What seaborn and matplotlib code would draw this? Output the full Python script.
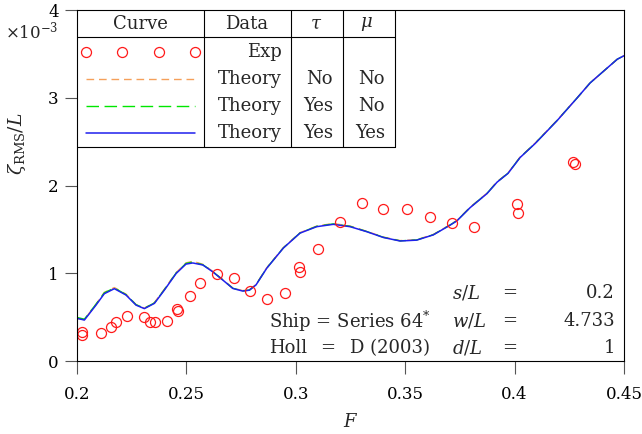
import matplotlib
matplotlib.use("Agg")
import matplotlib.pyplot as plt
import seaborn as sns
import pandas as pd
from matplotlib.lines import Line2D

# ---------------- data (zeta_RMS/L in units of 1e-3) ----------------
F_theory = [0.2, 0.2035, 0.2088, 0.2126, 0.2172, 0.2225, 0.2271, 0.2309, 0.2355, 0.2400,
            0.2454, 0.2499, 0.2530, 0.2576, 0.2621, 0.2667, 0.2713, 0.2758, 0.2789, 0.2819,
            0.2868, 0.2944, 0.3020, 0.3096, 0.3172, 0.3249, 0.3325, 0.3401, 0.3477, 0.3553,
            0.3629, 0.3705, 0.3737, 0.3797, 0.3874, 0.3920, 0.3970, 0.4025, 0.4094, 0.4194,
            0.4286, 0.4345, 0.4469, 0.45]
theory_tau_mu = [0.49, 0.47, 0.64, 0.77, 0.827, 0.755, 0.64, 0.60, 0.66, 0.81,
                 1.0, 1.107, 1.12, 1.097, 1.02, 0.926, 0.83, 0.80, 0.81, 0.87,
                 1.06, 1.29, 1.46, 1.533, 1.56, 1.533, 1.476, 1.41, 1.37, 1.38,
                 1.44, 1.55, 1.60, 1.75, 1.91, 2.04, 2.14, 2.32, 2.48, 2.74,
                 3.0, 3.17, 3.44, 3.48]
theory_tau = [0.50, 0.48, 0.65, 0.78, 0.835, 0.76, 0.645, 0.605, 0.665, 0.815,
              1.005, 1.115, 1.13, 1.10, 1.022, 0.928, 0.832, 0.802, 0.812, 0.872,
              1.062, 1.292, 1.462, 1.537, 1.565, 1.537, 1.478, 1.412, 1.372, 1.382,
              1.442, 1.552, 1.602, 1.752, 1.912, 2.042, 2.142, 2.322, 2.482, 2.742,
              3.0, 3.17, 3.44, 3.48]
theory_none = [0.49, 0.475, 0.65, 0.785, 0.84, 0.765, 0.645, 0.605, 0.67, 0.82,
               1.01, 1.12, 1.14, 1.105, 1.025, 0.93, 0.835, 0.805, 0.815, 0.875,
               1.065, 1.295, 1.465, 1.54, 1.57, 1.54, 1.48, 1.415, 1.375, 1.385,
               1.445, 1.555, 1.605, 1.755, 1.915, 2.045, 2.145, 2.325, 2.485, 2.745,
               3.0, 3.17, 3.44, 3.48]

F_exp = [0.2026, 0.2026, 0.211, 0.2157, 0.218, 0.2231, 0.2309, 0.2335, 0.2358, 0.2411,
         0.246, 0.2464, 0.2516, 0.2563, 0.264, 0.2719, 0.2792, 0.2871, 0.295, 0.3017,
         0.302, 0.31, 0.3203, 0.3302, 0.34, 0.3507, 0.3614, 0.3713, 0.3815, 0.4013,
         0.4016, 0.4269, 0.4277]
exp_vals = [0.337, 0.30, 0.326, 0.387, 0.45, 0.52, 0.50, 0.444, 0.444, 0.455,
            0.60, 0.576, 0.744, 0.888, 0.99, 0.945, 0.80, 0.706, 0.78, 1.077,
            1.02, 1.275, 1.59, 1.806, 1.73, 1.73, 1.64, 1.58, 1.526, 1.79,
            1.69, 2.27, 2.25]

x_ticks = [0.2, 0.25, 0.3, 0.35, 0.4, 0.45]
x_tick_labels = ["0.2", "0.25", "0.3", "0.35", "0.4", "0.45"]
y_ticks = [0, 1, 2, 3, 4]
y_tick_labels = ["0", "1", "2", "3", "4"]

table_header = ["Curve", "Data", r"$\tau$", r"$\mu$"]
table_data = ["Exp", "Theory", "Theory", "Theory"]
table_tau = ["", "No", "Yes", "Yes"]
table_mu = ["", "No", "No", "Yes"]

param_names = [r"$s/L$", r"$w/L$", r"$d/L$"]
param_values = ["0.2", "4.733", "1"]

# ---------------- style ----------------
sns.set_theme(style="white")
plt.rcParams["font.family"] = ["DejaVu Serif"]
plt.rcParams["mathtext.fontset"] = "dejavuserif"

ORANGE = "#f5a05a"
GREEN = "#00e600"
BLUE = "#1f1fee"
RED = "#ff1a1a"

fig = plt.figure(figsize=(6.42, 4.34), dpi=100)
ax = fig.add_axes([0.1195, 0.1675, 0.8525, 0.8093])

df = pd.DataFrame({"F": F_theory, "none": theory_none, "tau": theory_tau, "taumu": theory_tau_mu})
dfe = pd.DataFrame({"F": F_exp, "exp": exp_vals})

sns.lineplot(data=df, x="F", y="none", ax=ax, color=ORANGE, lw=1.0, sort=False)
ax.lines[-1].set_dashes((5.5, 3.5))
sns.lineplot(data=df, x="F", y="tau", ax=ax, color=GREEN, lw=1.0, sort=False)
ax.lines[-1].set_dashes((9, 4))
sns.lineplot(data=df, x="F", y="taumu", ax=ax, color=BLUE, lw=1.1, sort=False)
ax.plot(dfe["F"], dfe["exp"], ls="none", marker="o", ms=7.2, mfc="none", mec=RED, mew=0.9)

ax.set_xlim(0.2, 0.45)
ax.set_ylim(0, 4)
ax.set_xticks(x_ticks)
ax.set_xticklabels(x_tick_labels)
ax.set_yticks(y_ticks)
ax.set_yticklabels(y_tick_labels)
ax.tick_params(direction="out", length=9, width=0.8, color="#555555", labelsize=12,
               labelcolor="black")
ax.tick_params(axis="x", pad=9)
ax.tick_params(axis="y", pad=4)
ax.tick_params(bottom=True, left=True, top=False, right=False)
for s in ax.spines.values():
    s.set_color("black")
    s.set_linewidth(0.8)

ax.set_xlabel(r"$F$", fontsize=13)
ax.xaxis.label.set_va("center")
ax.xaxis.set_label_coords(0.5, -0.174)
ax.set_ylabel(r"$\zeta_{\mathrm{RMS}}/L$", fontsize=13.5)
ax.yaxis.label.set_va("center")
ax.yaxis.set_label_coords(-0.110, 0.62)
ax.text(-0.034, 0.94, r"$\times10^{-3}$", transform=ax.transAxes, ha="right", va="center",
        fontsize=12)

# ---------------- table legend ----------------
T = ax.transAxes
fs = 13
def hline(y, x0, x1):
    ax.add_line(Line2D([x0, x1], [y, y], transform=T, color="black", lw=0.8))
def vline(x, y0, y1):
    ax.add_line(Line2D([x, x], [y0, y1], transform=T, color="black", lw=0.8))

y_hdr_sep, y_bot = 0.9234, 0.610
col_lines = [0.2326, 0.3916, 0.4866, 0.5815]
hline(y_hdr_sep, 0, 0.5815)
hline(y_bot, 0, 0.5815)
for xc in col_lines:
    vline(xc, y_bot, 1.0)

hdr_x = [0.1157, 0.3113, 0.4372, 0.529]
for xh, lab in zip(hdr_x, table_header):
    ax.text(xh, 0.9607, lab, transform=T, ha="center", va="center", fontsize=fs)

row_y = [0.8807, 0.804, 0.727, 0.650]
for ry, d, t, m in zip(row_y, table_data, table_tau, table_mu):
    ax.text(0.3752, ry, d, transform=T, ha="right", va="center", fontsize=fs)
    ax.text(0.4683, ry, t, transform=T, ha="right", va="center", fontsize=fs)
    ax.text(0.5633, ry, m, transform=T, ha="right", va="center", fontsize=fs)

ax.plot([0.017, 0.0828, 0.1504, 0.2162], [row_y[0]] * 4, transform=T, ls="none",
        marker="o", ms=7.2, mfc="none", mec=RED, mew=0.9)
l1, = ax.plot([0.017, 0.2166], [row_y[1]] * 2, transform=T, color=ORANGE, lw=1.0)
l1.set_dashes((5.5, 3.5))
l2, = ax.plot([0.017, 0.2166], [row_y[2]] * 2, transform=T, color=GREEN, lw=1.0)
l2.set_dashes((9, 4))
ax.plot([0.017, 0.2166], [row_y[3]] * 2, transform=T, color=BLUE, lw=1.1)

# ---------------- annotation ----------------
ann_y = [0.1945, 0.1147, 0.0379]
for yy, nm, val in zip(ann_y, param_names, param_values):
    ax.text(0.6857, yy, nm, transform=T, ha="left", va="center", fontsize=fs)
    ax.text(0.7918, yy, "=", transform=T, ha="center", va="center", fontsize=fs)
    ax.text(0.9836, yy, val, transform=T, ha="right", va="center", fontsize=fs)
ax.text(0.3513, ann_y[1], r"Ship = Series 64$^{*}$", transform=T, ha="left", va="center", fontsize=fs)
ax.text(0.3513, ann_y[2], "Holl", transform=T, ha="left", va="center", fontsize=fs)
ax.text(0.459, ann_y[2], "=", transform=T, ha="center", va="center", fontsize=fs)
ax.text(0.6455, ann_y[2], "D (2003)", transform=T, ha="right", va="center", fontsize=fs)

fig.savefig("out.png", dpi=100)
